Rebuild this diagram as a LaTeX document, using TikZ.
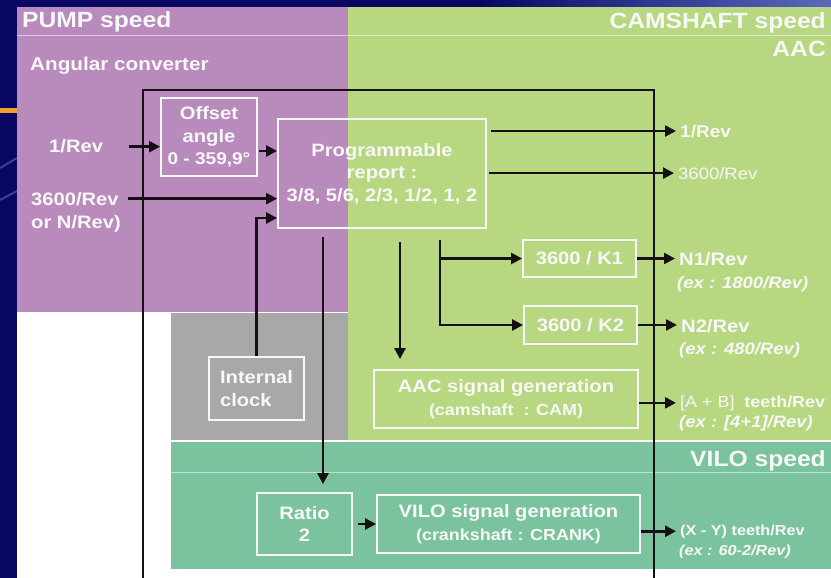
\documentclass[tikz,border=0pt]{standalone}
\usepackage{fontspec}
\setmainfont[FakeStretch=1.12]{Liberation Sans}
\usetikzlibrary{arrows.meta}

\definecolor{slidebg}{RGB}{8,8,100}
\definecolor{slidehi}{RGB}{90,105,190}
\definecolor{stripe}{RGB}{240,160,48}
\definecolor{pumpzone}{RGB}{185,139,189}
\definecolor{camzone}{RGB}{183,216,128}
\definecolor{clockzone}{RGB}{168,168,168}
\definecolor{vilozone}{RGB}{122,195,158}
\definecolor{txt}{RGB}{248,248,248}
\definecolor{wire}{RGB}{22,16,22}

\begin{document}
\begin{tikzpicture}[x=1pt, y=-1pt, >/.tip={Triangle[length=11pt,width=11pt]},
    block/.style={draw=txt, line width=1.8pt, text=txt, align=center, inner sep=0pt,
        font=\bfseries\fontsize{18}{22.5}\selectfont},
    lbl/.style={text=txt, anchor=base west, inner sep=0pt, font=\bfseries\fontsize{18}{20}\selectfont},
    exlbl/.style={lbl, font=\bfseries\itshape\fontsize{16.5}{20}\selectfont},
    zonetitle/.style={text=txt, inner sep=0pt, font=\bfseries\fontsize{22}{26}\selectfont},
    flow/.style={->, draw=wire, line width=2.5pt},
    outflow/.style={flow, shorten >=4pt}]
    \useasboundingbox (0,0) rectangle (831,578);
    % slide background
    \fill[slidebg] (0,0) rectangle (831,578);
    \shade[left color=slidebg, right color=slidehi] (480,0) rectangle (831,8);
    \draw[slidehi, opacity=.6, line width=2pt] (0,168) -- (17,158)  (0,200) -- (17,191);
    \fill[stripe] (0,108) rectangle (17,113);
    % zones
    \fill[white] (17,312) rectangle (831,578);
    \fill[pumpzone] (17,7) rectangle (348,312);
    \fill[camzone] (348,7) rectangle (831,440);
    \fill[clockzone] (171,313) rectangle (348,440);
    \fill[vilozone] (171,442) rectangle (831,569);
    \draw[white, opacity=.5, line width=1pt] (17,36) -- (831,36)  (171,472) -- (831,472);
    \node[zonetitle, anchor=base west] (pump) at (22,28) {PUMP speed};
    \node[zonetitle, anchor=base east] (cam) at (826,29) {CAMSHAFT speed};
    \node[zonetitle, anchor=base east] (aacspeed) at (826,57) {AAC};
    \node[zonetitle, anchor=base east] (vilospeed) at (826,466) {VILO speed};
    \node[lbl, font=\bfseries\fontsize{18.5}{20}\selectfont] (conv) at (30,71) {Angular converter};
    % outer frame
    \draw[wire, line width=2.6pt] (143,578) -- (143,90) -- (654,90) -- (654,578);
    % blocks
    \node[block, minimum width=96pt, minimum height=78pt] (offset) at (209,137)
        {Offset\\angle\\{\fontsize{17}{22}\selectfont 0 - 359,9°}};
    \node[block, minimum width=208pt, minimum height=109pt] (prog) at (382,173.5)
        {Programmable\\report :\\3/8, 5/6, 2/3, 1/2, 1, 2};
    \node[block, align=left, minimum width=95pt, minimum height=63pt] (clock) at (256.5,388.5)
        {Internal\\clock};
    \node[block, minimum width=113pt, minimum height=37pt] (k1) at (579.5,258.5) {3600 / K1};
    \node[block, minimum width=113pt, minimum height=38pt] (k2) at (580.5,325) {3600 / K2};
    \node[block, minimum width=264pt, minimum height=58pt] (aac) at (506,399)
        {AAC signal generation\\{\fontsize{16}{22}\selectfont (camshaft\ \ : CAM)}};
    \node[block, minimum width=95pt, minimum height=62pt] (ratio) at (304.5,524) {Ratio\\2};
    \node[block, minimum width=263pt, minimum height=58pt] (vilo) at (508.5,524)
        {VILO signal generation\\{\fontsize{16}{22}\selectfont (crankshaft : CRANK)}};
    % inputs
    \node[lbl] (in1) at (49,153) {1/Rev};
    \node[lbl] (in2) at (31,205) {3600/Rev};
    \node[lbl] (in2b) at (31,228) {or N/Rev)};
    % outputs
    \node[lbl, font=\bfseries\fontsize{17}{20}\selectfont] (o1) at (680,137) {1/Rev};
    \node[lbl, font=\fontsize{16.5}{20}\selectfont] (o2) at (678,179) {3600/Rev};
    \node[lbl] (n1) at (679,265) {N1/Rev};
    \node[exlbl] (n1x) at (677,288) {(ex : 1800/Rev)};
    \node[lbl] (n2) at (681,332) {N2/Rev};
    \node[exlbl] (n2x) at (679,354) {(ex : 480/Rev)};
    \node[lbl, font=\bfseries\fontsize{16}{20}\selectfont] (ab) at (680,407) {{\mdseries [A + B]}\ \ teeth/Rev};
    \node[exlbl] (abx) at (679,427) {(ex : [4+1]/Rev)};
    \node[lbl, font=\bfseries\fontsize{14.5}{18}\selectfont] (xy) at (680,535) {(X - Y) teeth/Rev};
    \node[exlbl, font=\bfseries\itshape\fontsize{14.5}{18}\selectfont] (xyx) at (679,555) {(ex : 60-2/Rev)};
    % connectors
    \coordinate (oa) at (259,151);
    \coordinate (ck) at (0,218);
    \coordinate (d1) at (323,237);
    \coordinate (d2) at (400,242);
    \coordinate (d3) at (440,240);
    \draw[flow] ([xshift=26pt]in1.east) -- (in1 -| offset.west);
    \draw[flow] (oa) -- (oa -| prog.west);
    \draw[flow] ([xshift=9pt]in2.east) -- (in2 -| prog.west);
    \draw[flow] (clock.north) |- (ck -| prog.west);
    \draw[outflow, shorten <=4pt] (prog.east |- o1) -- (o1.west);
    \draw[outflow, shorten <=2pt] (prog.east |- o2) -- (o2.west);
    \draw[flow, shorten >=8pt] (d1) -- (d1 |- ratio.north);
    \draw[flow, shorten >=10pt] (d2) -- (d2 |- aac.north);
    \draw[flow] (d3) |- (k2.west);
    \draw[flow] (d3 |- k1) -- (k1.west);
    \draw[outflow] (k1.east) -- (k1.east -| n1.west);
    \draw[outflow] (k2.east) -- (k2.east -| n2.west);
    \draw[outflow] (aac.east |- ab) -- (ab.west);
    \draw[flow, shorten <=5pt] (ratio.east) -- (vilo.west);
    \draw[outflow] (vilo.east |- xy) -- (xy.west);
\end{tikzpicture}
\end{document}
